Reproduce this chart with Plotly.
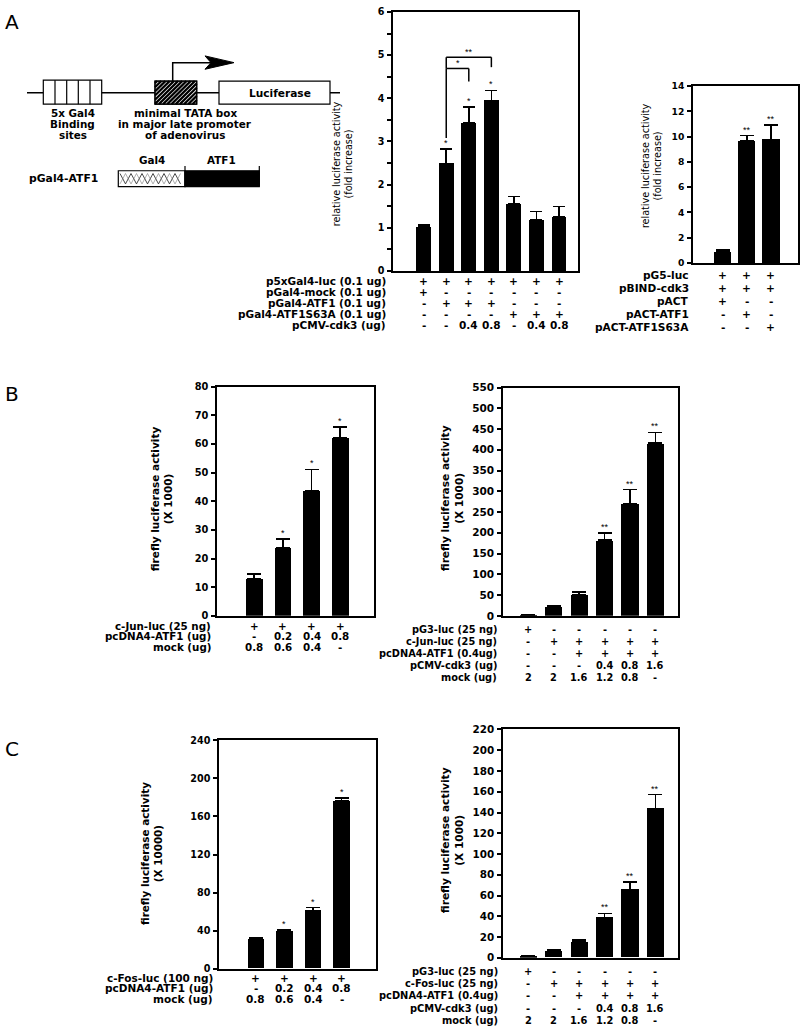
import plotly.graph_objects as go

W, H = 800, 1032
FONT = "DejaVu Sans, Liberation Sans, Arial, sans-serif"
STAR_FONT = "Liberation Sans, Arial, sans-serif"

# ---------------- data ----------------
# A (left): Gal4 reporter, fold increase
a1_vals = [1.02, 2.49, 3.43, 3.95, 1.56, 1.19, 1.26]
a1_err = [0.05, 0.34, 0.37, 0.23, 0.16, 0.19, 0.23]
a1_stars = ["", "*", "*", "*", "", "", ""]
a1_rows = ["p5xGal4-luc (0.1 ug)", "pGal4-mock (0.1 ug)", "pGal4-ATF1 (0.1 ug)",
           "pGal4-ATF1S63A (0.1 ug)", "pCMV-cdk3 (ug)"]
a1_table = [["+", "+", "+", "+", "+", "+", "+"],
            ["+", "-", "-", "-", "-", "-", "-"],
            ["-", "+", "+", "+", "-", "-", "-"],
            ["-", "-", "-", "-", "+", "+", "+"],
            ["-", "-", "0.4", "0.8", "-", "0.4", "0.8"]]
# brackets: (from lane, to lane, bar height, left leg bottom, right leg bottom, label)
a1_brackets = [(1, 2, 4.69, 3.08, 4.39, "*"),
               (1, 3, 4.95, 4.69, 4.72, "**")]

# A (right): two-hybrid
a2_vals = [0.86, 9.64, 9.77]
a2_err = [0.15, 0.44, 1.17]
a2_stars = ["", "**", "**"]
a2_rows = ["pG5-luc", "pBIND-cdk3", "pACT", "pACT-ATF1", "pACT-ATF1S63A"]
a2_table = [["+", "+", "+"],
            ["+", "+", "+"],
            ["+", "-", "-"],
            ["-", "+", "-"],
            ["-", "-", "+"]]

# B (left): c-Jun-luc dose
b1_vals = [13.0, 23.75, 43.75, 62.2]
b1_err = [1.5, 2.95, 7.35, 3.6]
b1_stars = ["", "*", "*", "*"]
b1_rows = ["c-Jun-luc (25 ng)", "pcDNA4-ATF1 (ug)", "mock (ug)"]
b1_table = [["+", "+", "+", "+"],
            ["-", "0.2", "0.4", "0.8"],
            ["0.8", "0.6", "0.4", "-"]]

# B (right): c-Jun-luc + cdk3
b2_vals = [2, 23, 50.6, 182, 271, 416]
b2_err = [0.5, 2, 6.4, 18, 33, 26]
b2_stars = ["", "", "", "**", "**", "**"]
b2_rows = ["pG3-luc (25 ng)", "c-Jun-luc (25 ng)", "pcDNA4-ATF1 (0.4ug)",
           "pCMV-cdk3 (ug)", "mock (ug)"]
b2_table = [["+", "-", "-", "-", "-", "-"],
            ["-", "+", "+", "+", "+", "+"],
            ["-", "-", "+", "+", "+", "+"],
            ["-", "-", "-", "0.4", "0.8", "1.6"],
            ["2", "2", "1.6", "1.2", "0.8", "-"]]

# C (left): c-Fos-luc dose
c1_vals = [31.1, 39.4, 60.8, 176]
c1_err = [1.7, 1.7, 3.5, 3.4]
c1_stars = ["", "*", "*", "*"]
c1_rows = ["c-Fos-luc (100 ng)", "pcDNA4-ATF1 (ug)", "mock (ug)"]
c1_table = [["+", "+", "+", "+"],
            ["-", "0.2", "0.4", "0.8"],
            ["0.8", "0.6", "0.4", "-"]]

# C (right): c-Fos-luc + cdk3
c2_vals = [1.3, 6.3, 15.2, 38.6, 65.8, 144]
c2_err = [0.3, 1.0, 1.9, 4.1, 7.3, 13.3]
c2_stars = ["", "", "", "**", "**", "**"]
c2_rows = ["pG3-luc (25 ng)", "c-Fos-luc (25 ng)", "pcDNA4-ATF1 (0.4ug)",
           "pCMV-cdk3 (ug)", "mock (ug)"]
c2_table = [["+", "-", "-", "-", "-", "-"],
            ["-", "+", "+", "+", "+", "+"],
            ["-", "-", "+", "+", "+", "+"],
            ["-", "-", "-", "0.4", "0.8", "1.6"],
            ["2", "2", "1.6", "1.2", "0.8", "-"]]

# panel geometry (pixels)
panels = [
    dict(vals=a1_vals, err=a1_err, stars=a1_stars, rows=a1_rows, table=a1_table,
         box=(393, 6, 578, 268), xr=[-1.36, 6.84], yr=[0, 6], dtick=1, minor=0.5,
         bar_w=0.66, cap=6, tick_size=9.6, row0=278.5, row_step=11.0, label_x=388,
         row_size=10.5, title="relative luciferase activity<br>(fold increase)",
         title_xy=(342, 160), title_bold=False, title_size=9.6),
    dict(vals=a2_vals, err=a2_err, stars=a2_stars, rows=a2_rows, table=a2_table,
         box=(693, 81, 798, 260), xr=[-1.22, 3.12], yr=[0, 14], dtick=2, minor=None,
         bar_w=0.72, cap=7, tick_size=9.2, row0=272, row_step=13.2, label_x=691,
         row_size=10.6, title="relative luciferase activity<br>(fold increase)",
         title_xy=(651, 162), title_bold=False, title_size=9.6),
    dict(vals=b1_vals, err=b1_err, stars=b1_stars, rows=b1_rows, table=b1_table,
         box=(217, 385, 374, 617), xr=[-1.3, 4.18], yr=[0, 80], dtick=10, minor=None,
         bar_w=0.58, cap=7, tick_size=9.8, row0=627, row_step=10.6, label_x=213,
         row_size=10.3, title="firefly luciferase activity<br>(X 1000)",
         title_xy=(162, 499), title_bold=True, title_size=10.5),
    dict(vals=b2_vals, err=b2_err, stars=b2_stars, rows=b2_rows, table=b2_table,
         box=(503, 386, 678, 617), xr=[-1.0, 5.89], yr=[0, 550], dtick=50, minor=None,
         bar_w=0.68, cap=7, tick_size=10.5, row0=630.5, row_step=12.2, label_x=499,
         row_size=9.8, title="firefly luciferase activity<br>(X 1000)",
         title_xy=(452, 498), title_bold=True, title_size=10.6),
    dict(vals=c1_vals, err=c1_err, stars=c1_stars, rows=c1_rows, table=c1_table,
         box=(219, 743, 376, 974), xr=[-1.29, 4.2], yr=[0, 240], dtick=40, minor=None,
         bar_w=0.58, cap=7, tick_size=9.6, row0=983, row_step=10.8, label_x=215,
         row_size=10.5, title="firefly luciferase activity<br>(X 10000)",
         title_xy=(152, 858), title_bold=True, title_size=10.4),
    dict(vals=c2_vals, err=c2_err, stars=c2_stars, rows=c2_rows, table=c2_table,
         box=(503, 732, 678, 963), xr=[-1.0, 5.89], yr=[0, 220], dtick=20, minor=None,
         bar_w=0.68, cap=7, tick_size=10.4, row0=977, row_step=12.3, label_x=500,
         row_size=9.9, title="firefly luciferase activity<br>(X 1000)",
         title_xy=(452, 844), title_bold=True, title_size=10.6),
]


def pxx(x):
    return x / W


def pxy(y):
    return 1 - y / H


fig = go.Figure()
annotations = []
shapes = []


def txt(x, y, text, size=10, bold=True, anchor="center", family=FONT, **kw):
    annotations.append(dict(x=x, y=y, text=text, showarrow=False, xanchor=anchor,
                            yanchor="middle",
                            font=dict(family=family, size=size, color="black",
                                      weight="bold" if bold else "normal"), **kw))


for k, p in enumerate(panels, start=1):
    sfx = "" if k == 1 else str(k)
    xa, ya = "x" + sfx, "y" + sfx
    x0, y0, x1, y1 = p["box"]
    lanes = list(range(len(p["vals"])))

    fig.add_trace(go.Bar(
        x=lanes, y=p["vals"], width=p["bar_w"], xaxis=xa, yaxis=ya,
        marker=dict(color="black", line=dict(width=0)),
        error_y=dict(type="data", array=p["err"], arrayminus=[0] * len(lanes),
                     symmetric=False, color="black", thickness=1.6, width=p["cap"]),
        showlegend=False, hoverinfo="skip"))

    frame = dict(showline=True, linecolor="black", linewidth=1.5, mirror=True,
                 showgrid=False, zeroline=False)
    nt = int(round(p["yr"][1] / p["dtick"]))
    tvals = [p["dtick"] * i for i in range(nt + 1)]
    yax = dict(domain=[pxy(y1), pxy(y0)], anchor=xa, range=p["yr"],
               tickmode="array", tickvals=tvals,
               ticktext=[f"<b>{v:g}</b>" for v in tvals],
               ticks="outside", ticklen=4, tickwidth=1.5, tickcolor="black",
               ticklabelstandoff=1,
               tickfont=dict(family=FONT, size=p["tick_size"], color="black"),
               **frame)
    if p["minor"]:
        yax["minor"] = dict(tickmode="linear", tick0=0, dtick=p["minor"],
                            ticks="outside", ticklen=4, tickwidth=1.5,
                            tickcolor="black", showgrid=False)
    fig.update_layout(**{
        "xaxis" + sfx: dict(domain=[pxx(x0), pxx(x1)], anchor=ya, range=p["xr"],
                            showticklabels=False, ticks="", **frame),
        "yaxis" + sfx: yax,
    })

    # significance stars above the error bars
    for i, s in enumerate(p["stars"]):
        if s:
            txt(i, p["vals"][i] + p["err"][i], s, size=9, bold=False,
                family=STAR_FONT, xref=xa, yref=ya, yshift=6)

    # condition table under each chart
    for r, (label, cells) in enumerate(zip(p["rows"], p["table"])):
        ry = pxy(p["row0"] + r * p["row_step"])
        txt(pxx(p["label_x"]), ry, label, size=p["row_size"], anchor="right",
            xref="paper", yref="paper")
        for i, c in enumerate(cells):
            txt(i, ry, c, size=p["row_size"], xref=xa, yref="paper")

    tx, ty = p["title_xy"]
    txt(pxx(tx), pxy(ty), p["title"], size=p["title_size"], bold=p["title_bold"],
        textangle=-90, xref="paper", yref="paper")

# significance brackets in panel A
for a, b, top, left_low, right_low, lab in a1_brackets:
    line = dict(type="line", xref="x", yref="y", line=dict(color="black", width=1.5))
    shapes.append(dict(line, x0=a, x1=b, y0=top, y1=top))
    shapes.append(dict(line, x0=a, x1=a, y0=left_low, y1=top))
    shapes.append(dict(line, x0=b, x1=b, y0=right_low, y1=top))
    txt((a + b) / 2, top, lab, size=9, bold=False, family=STAR_FONT,
        xref="x", yref="y", yshift=5)

# panel letters
for letter, (lx, ly) in zip("ABC", [(12, 16), (12, 393), (12, 752)]):
    txt(pxx(lx), pxy(ly), letter, size=20, bold=False, xref="paper", yref="paper")


# ---------------- schematic in panel A ----------------
def pline(xa_, ya_, xb, yb, width=1.5, color="black"):
    shapes.append(dict(type="line", xref="paper", yref="paper",
                       x0=pxx(xa_), y0=pxy(ya_), x1=pxx(xb), y1=pxy(yb),
                       line=dict(color=color, width=width)))


def prect(xa_, ya_, xb, yb, fill="white", width=1.2):
    shapes.append(dict(type="rect", xref="paper", yref="paper",
                       x0=pxx(xa_), y0=pxy(ya_), x1=pxx(xb), y1=pxy(yb),
                       fillcolor=fill, line=dict(color="black", width=width)))


def ppath(pts, fill=None, width=1.0, color="black", close=False):
    d = "M " + " L ".join(f"{pxx(x):.5f},{pxy(y):.5f}" for x, y in pts)
    if close:
        d += " Z"
    shp = dict(type="path", xref="paper", yref="paper", path=d,
               line=dict(color=color, width=width))
    if fill:
        shp["fillcolor"] = fill
    shapes.append(shp)


# DNA line
pline(27, 87.7, 340, 87.7)
# 5x Gal4 sites
prect(43.3, 75, 101.7, 99.3)
for gx in [55, 66.7, 78.3, 90]:
    pline(gx, 75, gx, 99.3, width=1.2)
# TATA box with hatching
tx0, ty0, tx1, ty1 = 155, 76, 196.7, 99.3
prect(tx0, ty0, tx1, ty1)
c = tx0 + ty0 + 2
while c < tx1 + ty1:
    ya_ = max(ty0, c - tx1)
    yb = min(ty1, c - tx0)
    if yb > ya_:
        pline(c - ya_, ya_, c - yb, yb, width=2.2)
    c += 4.2
prect(tx0, ty0, tx1, ty1, fill="rgba(0,0,0,0)")
# Luciferase box
prect(219, 76, 330, 99.3)
txt(pxx(280), pxy(87.7), "Luciferase", size=10.6, xref="paper", yref="paper")
# transcription start arrow
ppath([(172.7, 76), (172.7, 57.3), (212, 57.3)], width=1.5)
ppath([(205, 50.5), (234, 57.3), (205, 64), (211, 57.3)], fill="black", close=True)

for cx, lines in [(72.7, ["5x Gal4", "Binding", "sites"]),
                  (185, ["minimal TATA box", "in major late promoter", "of adenovirus"])]:
    for j, s in enumerate(lines):
        txt(pxx(cx), pxy(108.5 + j * 11.2), s, size=10.4, xref="paper", yref="paper")

# pGal4-ATF1 construct
txt(pxx(26.7), pxy(174.5), "pGal4-ATF1", size=10.8, anchor="left", xref="paper", yref="paper")
prect(118.3, 166.7, 185, 182.7)
zig = []
zx = 120
n = 0
while zx <= 183:
    zig.append((zx, 169.5 if n % 2 == 0 else 180))
    zx += 5.5
    n += 1
ppath(zig, width=0.9, color="#333")
zig2 = [(x, 180 if y == 169.5 else 169.5) for x, y in zig]
ppath(zig2, width=0.6, color="#777")
prect(185, 166.7, 259.3, 182.7, fill="black")
pline(185, 162, 185, 182.7, width=1.2)
pline(259.3, 162, 259.3, 182.7, width=1.2)
txt(pxx(151.7), pxy(155.7), "Gal4", size=10.4, xref="paper", yref="paper")
txt(pxx(221.7), pxy(155.7), "ATF1", size=10.4, xref="paper", yref="paper")

fig.update_layout(
    width=W, height=H, autosize=False,
    margin=dict(l=0, r=0, t=0, b=0, pad=0),
    paper_bgcolor="white", plot_bgcolor="white",
    font=dict(family=FONT, color="black"),
    annotations=annotations, shapes=shapes, bargap=0,
)

fig.write_html("out.html", config={"displayModeBar": False},
               post_script="document.body.style.margin='0';")
